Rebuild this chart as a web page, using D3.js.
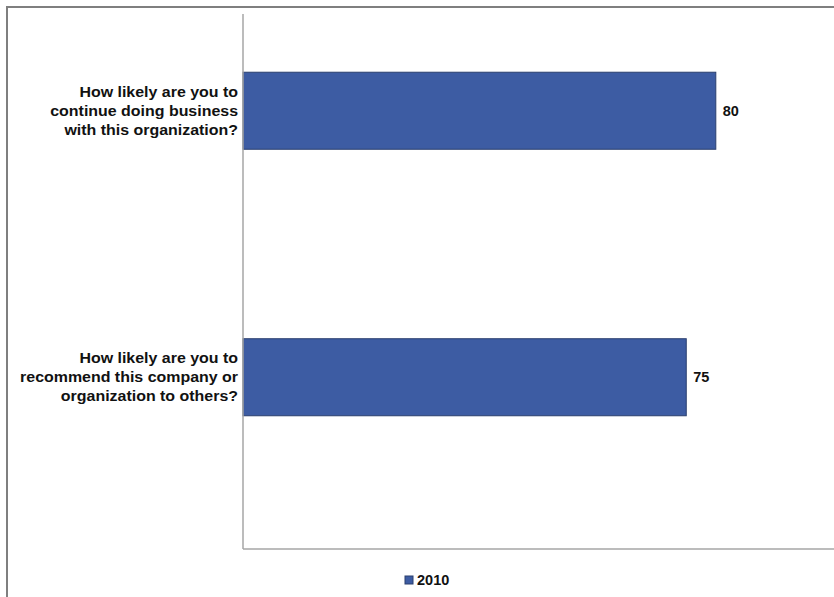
<!DOCTYPE html>
<html>
<head>
<meta charset="utf-8">
<script src="https://cdn.jsdelivr.net/npm/d3@7"></script>
<style>
  body { margin: 0; background: #fff; }
  svg { display: block; font-family: "Liberation Sans", Arial, sans-serif; }
</style>
</head>
<body>
<svg id="chart" width="834" height="597"></svg>
<script>
const questions = [
  "How likely are you to|continue doing business|with this organization?",
  "How likely are you to|recommend this company or|organization to others?"
];
const values2010 = [80, 75];
const seriesNames = ["2010", "other"];   // second slot is empty, like the source chart
const legendLabel = "2010";

const W = 834, H = 597;
const plot = { left: 243, right: 834, top: 16, bottom: 549 };

const svg = d3.select("#chart");

// outer frame
svg.append("rect")
  .attr("x", 7).attr("y", 7)
  .attr("width", W + 20).attr("height", H + 20)
  .attr("fill", "none")
  .attr("stroke", "#7f7f7f")
  .attr("stroke-width", 2);

const x = d3.scaleLinear().domain([0, 100]).range([plot.left, plot.right]);
const y = d3.scaleBand().domain(questions).range([plot.top, plot.bottom]);
const sub = d3.scaleBand().domain(seriesNames)
  .range([0, y.bandwidth()]).paddingOuter(0.73).paddingInner(0);

const color = "#3d5ca3";

svg.append("g").selectAll("rect")
  .data(questions)
  .join("rect")
  .attr("x", x(0))
  .attr("y", (d) => y(d) + sub("2010"))
  .attr("width", (d, i) => x(values2010[i]) - x(0))
  .attr("height", sub.bandwidth())
  .attr("fill", color)
  .attr("stroke", "#2b3f6e")
  .attr("stroke-width", 1);

// value labels
svg.append("g").selectAll("text")
  .data(questions)
  .join("text")
  .attr("x", (d, i) => x(values2010[i]) + 7)
  .attr("y", (d) => y(d) + sub("2010") + sub.bandwidth() / 2)
  .attr("dy", "0.35em")
  .attr("font-size", 14.5)
  .attr("font-weight", "bold")
  .attr("fill", "#111")
  .text((d, i) => values2010[i]);

// category labels (source text is a bit wider than Liberation Sans, so stretch it)
const lab = svg.append("g").selectAll("g")
  .data(questions)
  .join("g")
  .attr("transform", (d) => {
    const cy = y(d) + sub("2010") + sub.bandwidth() / 2;
    return `translate(${plot.left - 5},${cy}) scale(1.1,1)`;
  })
  .append("text")
  .attr("text-anchor", "end")
  .attr("font-size", 14.5)
  .attr("font-weight", "bold")
  .attr("fill", "#111");
lab.each(function(d) {
  const lines = d.split("|");
  const lh = 19;
  d3.select(this).selectAll("tspan")
    .data(lines)
    .join("tspan")
    .attr("x", 0)
    .attr("y", (l, i) => (i - (lines.length - 1) / 2) * lh)
    .attr("dy", "0.35em")
    .text((l) => l);
});

// axes lines
svg.append("line")
  .attr("x1", plot.left).attr("x2", plot.left)
  .attr("y1", 14).attr("y2", plot.bottom)
  .attr("stroke", "#a6a6a6").attr("stroke-width", 1.5);
svg.append("line")
  .attr("x1", plot.left).attr("x2", plot.right)
  .attr("y1", plot.bottom).attr("y2", plot.bottom)
  .attr("stroke", "#a6a6a6").attr("stroke-width", 1.5);

// legend
const lg = svg.append("g").attr("transform", "translate(405,576)");
lg.append("rect")
  .attr("width", 8).attr("height", 8)
  .attr("fill", color).attr("stroke", "#2b3f6e").attr("stroke-width", 1);
lg.append("text")
  .attr("x", 12).attr("y", 4)
  .attr("dy", "0.35em")
  .attr("font-size", 14.5)
  .attr("font-weight", "bold")
  .attr("fill", "#111")
  .text(legendLabel);
</script>
</body>
</html>
